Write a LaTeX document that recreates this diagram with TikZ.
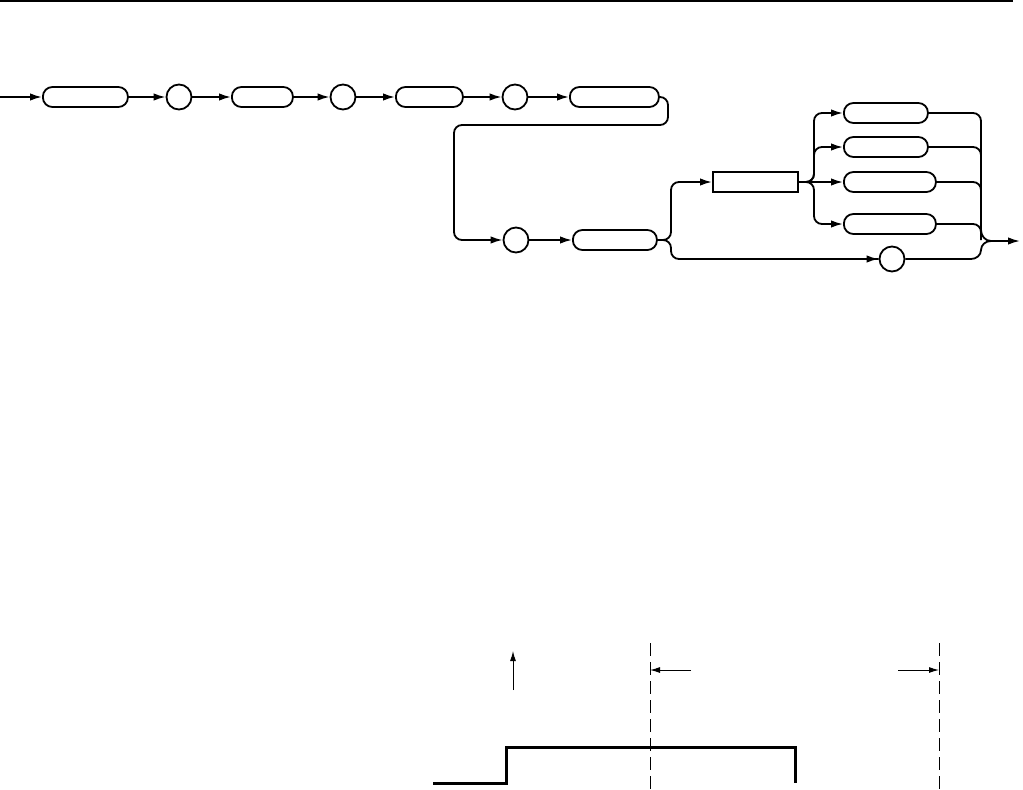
\documentclass[tikz,border=0pt]{standalone}
\usetikzlibrary{arrows.meta}
\begin{document}
\begin{tikzpicture}[x=1pt,y=-1pt,
  arr/.style={-{Latex[length=12pt,width=7.5pt]}},
  rbox/.style={draw,line width=1.8pt,rounded corners=9.5pt,minimum height=20pt,inner sep=0pt,anchor=west},
  sbox/.style={draw,line width=1.8pt,minimum height=20pt,inner sep=0pt,anchor=west},
  circ/.style={draw,line width=1.8pt,circle,minimum size=25pt,inner sep=0pt},
  wave/.style={line width=3pt},
  dashln/.style={line width=1pt,dash pattern=on 13pt off 6pt},
  thinarr/.style={line width=1pt,-{Latex[length=10pt,width=6pt]}}
]
\useasboundingbox (0,0) rectangle (1023,790);
\draw[line width=2pt] (0,1) -- (1013,1);
% row 1
\coordinate (in) at (0,97);
\node[rbox,minimum width=85pt] (b1) at (42,97) {};
\node[circ] (c1) at (179,97) {};
\node[rbox,minimum width=61pt] (b2) at (231,97) {};
\node[circ] (c2) at (343,97) {};
\node[rbox,minimum width=67pt] (b3) at (395,97) {};
\node[circ] (c3) at (515,97) {};
\node[rbox,minimum width=89pt] (b4) at (569,97) {};
% row 2
\node[circ] (c4) at (516,240) {};
\node[rbox,minimum width=84pt] (b5) at (572,240) {};
\node[sbox,minimum width=85pt] (r1) at (712,182) {};
\node[rbox,minimum width=84pt] (bA) at (843,113) {};
\node[rbox,minimum width=84pt] (bB) at (843,147) {};
\node[rbox,minimum width=92pt] (bC) at (843,182) {};
\node[rbox,minimum width=92pt] (bD) at (843,224) {};
\node[circ] (c5) at (892,259) {};
\coordinate (out) at (1020,241);

\begin{scope}[line width=1.8pt]
\draw[arr] (in) -- (b1.west);
\draw[arr] (b1.east) -- (c1.west);
\draw[arr] (c1.east) -- (b2.west);
\draw[arr] (b2.east) -- (c2.west);
\draw[arr] (c2.east) -- (b3.west);
\draw[arr] (b3.east) -- (c3.west);
\draw[arr] (c3.east) -- (b4.west);
\draw[arr,rounded corners=8pt] (b4.east) -- (668,97) -- (668,125) -- (454,125) -- (454,240) -- (c4.west);
\draw[arr] (c4.east) -- (b5.west);
\draw[arr,rounded corners=8pt] (b5.east) -- (671,240) -- (671,182) -- (r1.west);
\draw[rounded corners=8pt] (b5.east) -- (671,240) -- (671,259) -- (c5.west);
\draw[arr] (c5.west) ++(-14pt,0) -- (c5.west);
\draw[arr] (r1.east) -- (bC.west);
\draw[arr,rounded corners=8pt] (r1.east) -- (814,182) -- (814,113) -- (bA.west);
\draw[arr,rounded corners=8pt] (r1.east) -- (814,182) -- (814,147) -- (bB.west);
\draw[arr,rounded corners=8pt] (r1.east) -- (814,182) -- (814,224) -- (bD.west);
\draw[rounded corners=8pt] (bA.east) -- (981,113) -- (981,232);
\draw[rounded corners=8pt] (bB.east) -- (981,147) -- (981,200);
\draw[rounded corners=8pt] (bC.east) -- (981,182) -- (981,210);
\draw[rounded corners=8pt] (bD.east) -- (981,224) -- (981,240);
\draw (981,230) to[out=-90,in=180] (991,241);
\draw (c5.east) -- (971,259) to[out=0,in=-90] (981,250) to[out=90,in=180] (991,241);
\draw[arr] (991,241) -- (out);
\end{scope}

% timing diagram
\coordinate (w0) at (433,783);
\coordinate (w1) at (506,783);
\coordinate (w2) at (506,747);
\coordinate (w3) at (795,747);
\coordinate (w4) at (795,783);
\draw[wave] (w0) -- (w1) -- (w2) -- (w3) -- (w4);
\coordinate (ua) at (513,690);
\coordinate (ub) at (513,651);
\draw[thinarr] (ua) -- (ub);
\coordinate (d1t) at (650,643);
\coordinate (d1b) at (650,790);
\coordinate (d2t) at (939,643);
\coordinate (d2b) at (939,790);
\draw[dashln] (d1t) -- (d1b);
\draw[dashln] (d2t) -- (d2b);
\coordinate (la) at (691,670);
\coordinate (lb) at (650,670);
\coordinate (ra) at (898,670);
\coordinate (rb) at (939,670);
\draw[thinarr] (la) -- (lb);
\draw[thinarr] (ra) -- (rb);
\end{tikzpicture}
\end{document}
